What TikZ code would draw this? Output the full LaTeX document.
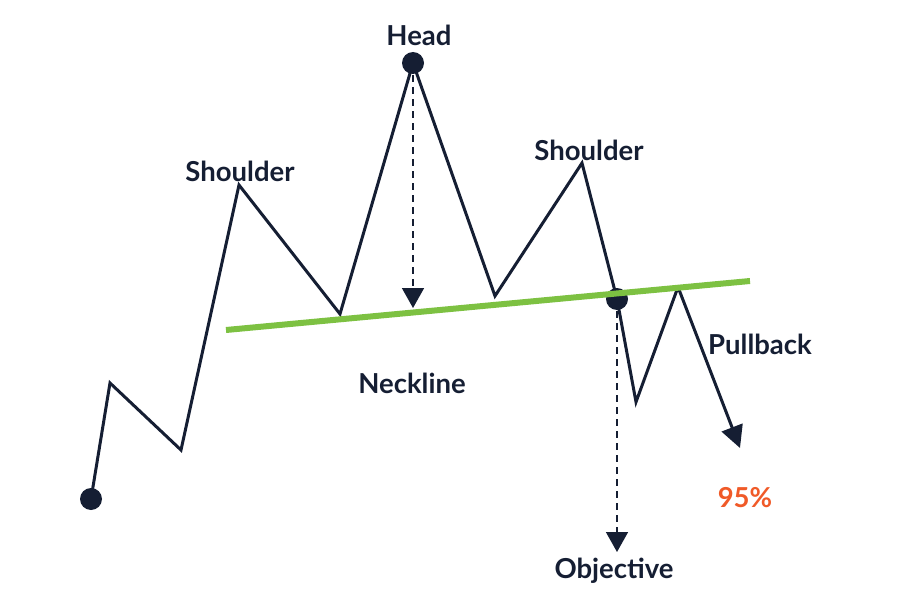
\documentclass[tikz,border=0pt]{standalone}
\usepackage{fontspec}
\setmainfont{Lato}
\usetikzlibrary{calc,positioning,arrows.meta}
\definecolor{navy}{HTML}{151E33}
\definecolor{neckgreen}{HTML}{7DC142}
\definecolor{pctorange}{HTML}{F05A28}
\tikzset{
	price/.style={draw=navy,line width=3pt,line join=miter},
	dotmark/.style={circle,fill=navy,inner sep=0pt,minimum size=22pt},
	lbl/.style={font=\fontsize{27.5}{32}\selectfont\bfseries,text=navy},
	target/.style={draw=navy,line width=1.6pt,dash pattern=on 7pt off 5pt,-{Triangle[width=22pt,length=20pt]}}
}
\begin{document}
\begin{tikzpicture}[x=1pt,y=-1pt]
				\useasboundingbox (0,0) rectangle (900,610);
				%\draw[color=gray,step=10pt, help lines,opacity=0.3] (0,0) grid (900,610); %help grids
				\coordinate (p0) at (91,499);
				\coordinate (p1) at (110,383);
				\coordinate (p2) at (181,450);
				\coordinate (ls) at (239,185);
				\coordinate (p3) at (340,314);
				\coordinate (hd) at (413,63);
				\coordinate (p4) at (495,296);
				\coordinate (rs) at (582,163);
				\coordinate (br) at (617,299);
				\coordinate (p5) at (636,402);
				\coordinate (pb) at (678,287);
				\coordinate (end) at (740,448);
				\coordinate (nl) at (226,330);
				\coordinate (nr) at (750,281);
				\coordinate (hdt) at (413,308);
				\coordinate (obt) at (617,552);

				\draw[target] (hd) -- (hdt);
				\draw[target] (br) -- (obt);

				\draw[price] (p0) -- (p1) -- (p2) -- (ls) -- (p3) -- (hd) -- (p4) -- (rs) -- (br) -- (p5) -- (pb);
				\draw[price,-{Triangle[width=22pt,length=22pt]}] (pb) -- (end);

				\node[dotmark] (start) at (p0) {};
				\node[dotmark] (head) at (hd) {};
				\node[dotmark] (break) at (br) {};

				\draw[draw=neckgreen,line width=6pt] (nl) -- (nr);

				\node[lbl] (headlbl) at (419,35) {Head};
				\node[lbl] (lslbl) at (240,171) {Shoulder};
				\node[lbl] (rslbl) at (589,150) {Shoulder};
				\node[lbl] (necklbl) at (412,383) {Neckline};
				\node[lbl] (pblbl) at (760,344) {Pullback};
				\node[lbl,text=pctorange] (pctlbl) at (745,498) {95\%};
				\node[lbl] (objlbl) at (614,571) {Objective};
\end{tikzpicture}
\end{document}
